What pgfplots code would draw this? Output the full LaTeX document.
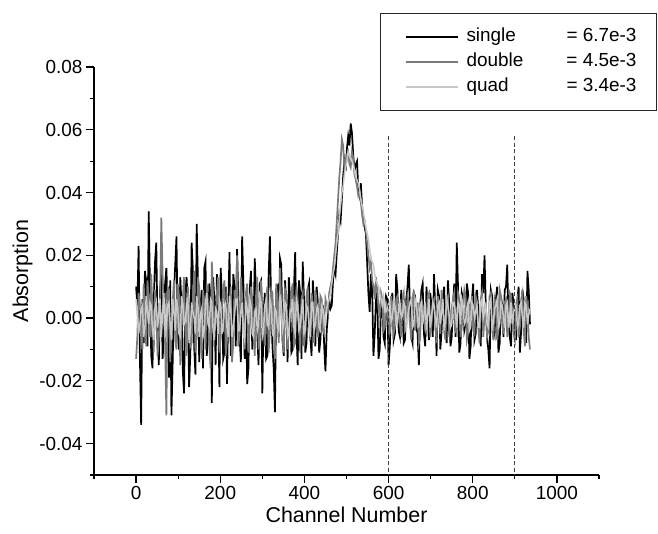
\documentclass[border=0pt]{standalone}
\usepackage{fontspec}
\setmainfont{Liberation Sans}
\usepackage{pgfplots}
\pgfplotsset{compat=1.18}
\usepackage{pgfplotstable}
\definecolor{dblgray}{HTML}{7A7A7A}
\definecolor{quadgray}{HTML}{C8C8C8}

% channel, single, double, quad
\pgfplotstableread{
x s d q
0 0.010 -0.013 0.006
3 0.004 -0.006 0.001
6 0.023 0.008 -0.005
9 -0.012 0.004 -0.002
12 -0.034 -0.004 0.003
15 0.006 -0.010 0.004
18 -0.008 0.011 -0.006
21 0.015 0.003 -0.003
24 0.012 -0.009 0.007
27 -0.009 0.012 0.002
30 0.034 0.006 -0.002
33 0.010 -0.006 0.005
36 -0.012 0.014 0.004
39 -0.016 0.002 -0.004
42 0.005 -0.011 -0.007
45 0.018 0.009 0.003
48 0.024 0.003 0.005
51 -0.004 -0.012 -0.003
54 -0.015 -0.007 0.001
57 0.009 0.006 0.006
60 0.014 0.032 -0.006
63 -0.013 0.014 0.002
66 -0.006 0.002 0.008
69 0.011 -0.008 -0.005
72 0.016 -0.031 -0.003
75 0.003 0.010 0.004
78 -0.019 0.009 0.005
81 0.012 -0.014 -0.002
84 -0.031 -0.005 -0.007
87 -0.014 0.005 0.006
90 0.008 0.012 0.002
93 0.017 -0.007 -0.004
96 0.026 -0.010 0.006
99 -0.005 0.011 0.003
102 -0.010 0.007 -0.005
105 0.013 -0.015 -0.006
108 0.004 -0.003 0.007
111 -0.017 0.006 0.004
114 -0.024 0.013 -0.002
117 0.008 -0.004 -0.001
120 0.013 -0.012 0.004
123 0.005 0.010 0.006
126 -0.022 0.004 -0.008
129 -0.011 -0.009 -0.004
132 0.024 -0.008 0.005
135 0.015 0.006 0.002
138 -0.009 0.015 0.000
141 -0.018 -0.011 -0.005
144 0.030 -0.006 0.007
147 0.012 0.013 0.004
150 -0.014 0.010 -0.006
153 0.004 -0.004 0.001
156 0.009 -0.013 0.003
159 -0.016 0.009 -0.006
162 0.016 0.005 -0.004
165 0.018 -0.010 0.005
168 -0.012 0.011 0.008
171 -0.005 0.004 -0.002
174 0.011 -0.009 -0.003
177 0.007 -0.016 0.006
180 -0.027 0.018 0.005
183 0.013 0.007 -0.004
186 0.006 -0.004 -0.007
189 -0.015 -0.002 0.003
192 0.014 0.008 0.002
195 0.004 0.013 -0.005
198 -0.022 -0.011 0.006
201 0.016 -0.006 0.004
204 0.007 0.003 -0.005
207 -0.013 0.009 -0.002
210 -0.011 0.012 0.004
213 0.010 -0.012 0.005
216 -0.021 -0.007 -0.003
219 0.003 0.004 -0.006
222 0.021 0.005 0.007
225 -0.012 0.010 0.003
228 -0.008 -0.014 -0.006
231 0.014 -0.008 -0.003
234 0.010 0.009 0.001
237 -0.009 0.004 0.006
240 0.022 0.020 0.006
243 0.006 -0.009 -0.004
246 -0.006 -0.005 -0.004
249 -0.014 0.013 0.002
252 0.026 0.007 0.005
255 0.011 -0.003 -0.005
258 -0.013 -0.010 -0.007
261 0.004 0.008 0.005
264 -0.021 0.011 0.003
267 -0.016 -0.011 -0.002
270 0.009 -0.003 0.006
273 0.015 0.010 0.004
276 -0.010 0.006 -0.005
279 -0.004 -0.005 -0.006
282 0.019 -0.012 0.002
285 0.008 0.007 0.003
288 -0.005 0.013 -0.004
291 -0.015 -0.010 -0.002
294 0.011 -0.006 0.007
297 0.012 0.012 0.005
300 -0.024 0.004 -0.006
303 0.002 -0.004 -0.004
306 0.008 -0.009 0.004
309 -0.013 0.006 0.006
312 -0.012 0.010 -0.002
315 0.014 -0.011 -0.003
318 0.026 -0.004 0.006
321 0.004 0.009 0.004
324 -0.009 0.008 -0.005
327 -0.016 -0.003 -0.006
330 -0.030 -0.013 0.003
333 0.009 0.011 0.002
336 0.010 0.005 -0.003
339 -0.006 -0.008 -0.004
342 0.019 0.016 0.007
345 0.017 0.004 0.005
348 -0.007 -0.007 -0.004
351 -0.012 -0.011 -0.002
354 0.012 0.009 0.005
357 0.005 0.007 0.004
360 -0.014 -0.010 -0.006
363 0.013 -0.004 -0.005
366 0.006 0.003 0.002
369 -0.011 0.008 0.003
372 -0.010 0.011 0.006
375 0.009 -0.009 -0.003
378 0.021 -0.008 -0.005
381 -0.004 0.010 0.006
384 -0.015 0.006 0.004
387 0.012 -0.003 -0.004
390 0.008 -0.011 -0.003
393 -0.013 0.006 0.002
396 0.018 0.008 0.006
399 0.006 -0.009 -0.005
402 -0.011 -0.005 -0.004
405 -0.008 0.007 0.004
408 0.009 0.010 0.003
411 0.011 -0.002 -0.002
414 -0.006 -0.007 -0.006
417 -0.012 0.008 0.005
420 0.012 0.004 0.005
423 0.004 -0.008 -0.004
426 -0.009 0.009 -0.002
429 0.010 0.005 0.003
432 0.005 -0.006 0.004
435 -0.011 -0.003 -0.003
438 -0.007 0.007 -0.004
441 0.002 0.006 0.004
444 0.003 -0.004 0.003
447 -0.009 -0.005 -0.002
450 -0.017 0.006 0.001
453 -0.004 0.004 0.003
456 0.001 0.002 0.005
459 0.006 0.008 0.006
462 0.003 0.010 0.008
465 0.004 0.012 0.011
468 0.012 0.016 0.014
471 0.016 0.020 0.016
474 0.014 0.024 0.020
477 0.021 0.031 0.024
480 0.027 0.038 0.027
483 0.033 0.045 0.032
486 0.031 0.050 0.036
489 0.038 0.057 0.040
492 0.045 0.055 0.042
495 0.050 0.048 0.046
498 0.047 0.050 0.048
501 0.054 0.052 0.050
504 0.058 0.053 0.053
507 0.055 0.049 0.052
510 0.062 0.048 0.051
513 0.059 0.053 0.050
516 0.052 0.051 0.049
519 0.047 0.046 0.047
522 0.049 0.044 0.045
525 0.050 0.042 0.044
528 0.041 0.039 0.043
531 0.039 0.040 0.041
534 0.043 0.037 0.038
537 0.036 0.033 0.036
540 0.031 0.030 0.034
543 0.029 0.031 0.031
546 0.027 0.028 0.029
549 0.018 0.024 0.027
552 0.008 0.020 0.025
555 0.002 0.016 0.022
558 0.014 0.018 0.019
561 0.009 0.012 0.018
564 -0.012 0.010 0.017
567 -0.005 0.006 0.014
570 0.006 0.013 0.012
573 0.008 0.009 0.011
576 -0.013 0.003 0.010
579 -0.010 0.001 0.008
582 0.004 0.008 0.006
585 0.005 0.006 0.004
588 -0.006 -0.004 0.007
591 -0.008 -0.003 0.005
594 0.007 0.005 0.002
597 0.006 0.004 0.003
600 -0.015 -0.002 0.004
603 -0.009 -0.005 0.005
606 0.005 0.007 -0.001
609 0.008 0.004 0.000
612 -0.007 -0.005 0.005
615 -0.005 -0.003 0.004
618 0.014 0.006 -0.002
621 0.009 0.007 -0.002
624 -0.004 0.001 0.004
627 -0.006 -0.002 0.005
630 0.009 -0.006 0.000
633 0.003 0.006 0.001
636 -0.008 0.008 0.005
639 -0.007 -0.004 0.004
642 0.006 -0.003 -0.003
645 0.010 0.007 -0.001
648 0.017 0.005 0.003
651 0.002 -0.002 0.005
654 -0.006 -0.007 0.006
657 -0.008 0.006 -0.003
660 0.008 0.009 -0.002
663 0.007 -0.004 0.006
666 -0.003 0.000 0.004
669 -0.005 0.005 0.000
672 -0.015 -0.008 -0.003
675 0.004 -0.006 0.004
678 0.009 0.006 0.005
681 0.011 0.004 -0.002
684 -0.005 0.003 0.001
687 -0.009 -0.004 0.005
690 0.010 -0.005 -0.004
693 0.003 0.007 0.001
696 -0.007 0.008 0.006
699 0.008 -0.006 -0.003
702 0.004 -0.002 0.000
705 -0.006 0.005 0.005
708 0.014 0.006 0.004
711 0.002 -0.002 0.000
714 -0.012 -0.008 -0.003
717 0.009 0.007 0.004
720 0.007 0.004 0.005
723 -0.010 -0.005 -0.002
726 -0.004 0.009 0.002
729 0.005 0.004 0.006
732 0.010 -0.004 -0.004
735 -0.003 -0.007 -0.001
738 -0.008 0.006 0.006
741 0.012 0.007 0.004
744 0.005 -0.006 0.001
747 -0.009 -0.002 -0.003
750 -0.006 0.003 -0.002
753 0.004 0.006 0.005
756 0.011 0.008 0.005
759 -0.006 -0.004 0.001
762 0.024 -0.005 -0.003
765 0.010 0.008 0.005
768 -0.011 0.006 0.004
771 -0.008 -0.006 -0.002
774 0.008 -0.003 0.006
777 0.006 0.004 0.004
780 -0.004 0.009 -0.002
783 -0.002 0.007 -0.001
786 0.011 -0.007 0.003
789 0.008 -0.005 0.005
792 -0.013 0.004 -0.004
795 -0.009 0.003 -0.003
798 0.006 0.007 0.005
801 0.011 -0.004 0.004
804 -0.007 -0.005 0.000
807 -0.005 0.007 0.002
810 0.009 0.005 0.004
813 0.003 -0.003 -0.003
816 -0.003 -0.008 -0.003
819 -0.009 0.006 0.005
822 0.014 0.008 0.006
825 0.008 -0.006 0.000
828 0.020 0.001 0.002
831 0.004 0.005 0.004
834 -0.006 -0.006 -0.002
837 -0.010 -0.004 -0.003
840 -0.016 0.007 0.005
843 0.009 0.008 0.006
846 0.007 -0.003 -0.004
849 -0.003 -0.007 -0.001
852 -0.005 0.006 0.003
855 0.006 0.004 0.004
858 0.010 -0.007 0.006
861 -0.011 -0.004 -0.003
864 -0.008 0.009 -0.002
867 0.007 0.007 0.005
870 0.004 -0.002 0.004
873 -0.006 -0.005 0.000
876 0.009 0.005 -0.003
879 0.010 0.006 0.004
882 0.017 -0.006 0.005
885 -0.002 -0.003 -0.003
888 -0.006 0.008 0.001
891 -0.009 0.007 0.005
894 0.008 0.002 -0.002
897 0.005 -0.005 0.001
900 -0.004 -0.007 0.005
903 -0.007 0.004 0.004
906 0.006 0.006 -0.003
909 0.010 -0.006 -0.002
912 -0.011 -0.003 0.004
915 -0.004 0.006 0.005
918 0.009 0.008 0.000
921 0.006 -0.004 -0.003
924 -0.003 -0.009 0.005
927 -0.008 0.007 0.004
930 0.015 0.004 -0.002
933 0.009 -0.006 0.001
936 -0.002 -0.010 0.003
}\spectra

\begin{document}
\begin{tikzpicture}
\useasboundingbox (-94bp,-59bp) rectangle (564bp,475bp);
\begin{axis}[
  scale only axis,
  width=505bp, height=408bp,
  xmin=-100, xmax=1100,
  ymin=-0.05, ymax=0.08,
  scaled y ticks=false,
  axis x line*=bottom, axis y line*=left,
  axis line style={-, line width=1.2bp},
  tick pos=left, tick align=outside,
  xtick={0,200,400,600,800,1000},
  xticklabels={0,200,400,600,800,1000},
  minor xtick={-100,100,300,500,700,900,1100},
  ytick={-0.04,-0.02,0,0.02,0.04,0.06,0.08},
  yticklabels={-0.04,-0.02,0.00,0.02,0.04,0.06,0.08},
  minor ytick={-0.05,-0.03,-0.01,0.01,0.03,0.05,0.07},
  major tick length=8bp, minor tick length=4bp,
  every tick/.style={black, line width=1.2bp},
  tick label style={font=\fontsize{19}{21}\selectfont},
  label style={font=\fontsize{21.5}{24}\selectfont},
  xlabel={Channel Number},
  ylabel={Absorption},
  legend cell align=left,
  legend style={at={(axis description cs:1.1149,1.1324)}, anchor=north east,
    draw=black!85, line width=1bp, font=\fontsize{19}{21}\selectfont,
    inner xsep=24.5bp, inner ysep=11bp,
    nodes={inner sep=3.5bp, text height=14bp, text depth=4bp}},
  legend image code/.code={\draw[#1] (0bp,0bp) -- (52bp,0bp);},
]
\addplot[black, line width=1.7bp] table[x=x, y=s] {\spectra};
\addlegendentry{\hspace*{4bp}\makebox[100bp][l]{single}\makebox[62bp][l]{= 6.7e-3}}
\addplot[dblgray, line width=1.7bp] table[x=x, y=d] {\spectra};
\addlegendentry{\hspace*{4bp}\makebox[100bp][l]{double}\makebox[62bp][l]{= 4.5e-3}}
\addplot[quadgray, line width=1.5bp] table[x=x, y=q] {\spectra};
\addlegendentry{\hspace*{4bp}\makebox[100bp][l]{quad}\makebox[62bp][l]{= 3.4e-3}}
\addplot[forget plot, black!75, line width=1.3bp, dash pattern=on 4bp off 2.5bp] coordinates {(600,0.058) (600,-0.05)};
\addplot[forget plot, black!75, line width=1.3bp, dash pattern=on 4bp off 2.5bp] coordinates {(900,0.058) (900,-0.05)};
\end{axis}
\end{tikzpicture}
\end{document}
